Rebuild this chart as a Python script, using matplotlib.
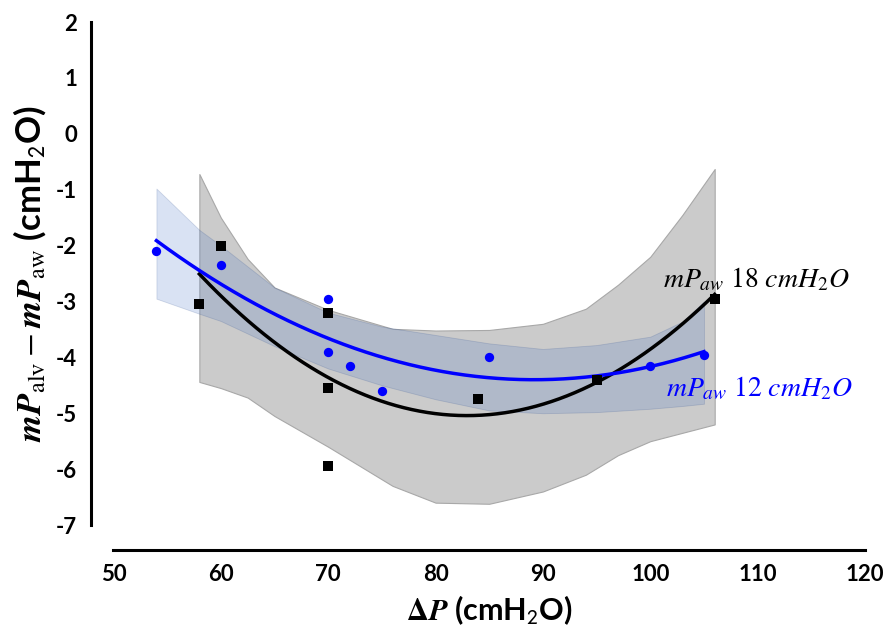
import numpy as np
import matplotlib
matplotlib.use("Agg")
import matplotlib.pyplot as plt

plt.rcParams['mathtext.fontset'] = 'stix'
plt.rcParams['font.family'] = ['Lato', 'DejaVu Sans']

# Measurements at mP_aw = 12 cmH2O (blue) and 18 cmH2O (black)
dp_12 = [54, 60, 70, 70, 72, 75, 85, 100, 105]
diff_12 = [-2.1, -2.35, -2.95, -3.9, -4.15, -4.6, -4.0, -4.15, -3.95]

dp_18 = [58, 60, 70, 70, 70, 84, 95, 106]
diff_18 = [-3.05, -2.0, -3.2, -4.55, -5.95, -4.75, -4.4, -2.95]

# Confidence bands of the quadratic fits
band12_x = [54, 58, 60, 65, 70, 75, 80, 85, 90, 95, 100, 103, 105]
band12_hi = [-0.98, -1.72, -2.0, -2.75, -3.2, -3.45, -3.6, -3.75, -3.85, -3.78, -3.63, -3.36, -3.0]
band12_lo = [-2.95, -3.22, -3.35, -3.8, -4.2, -4.5, -4.75, -4.95, -5.0, -4.98, -4.92, -4.87, -4.83]

band18_x = [58, 60, 62.5, 65, 70, 76, 80, 85, 90, 94, 97, 100, 103, 106]
band18_hi = [-0.72, -1.5, -2.24, -2.75, -3.15, -3.49, -3.52, -3.51, -3.4, -3.13, -2.7, -2.2, -1.45, -0.63]
band18_lo = [-4.44, -4.55, -4.72, -5.05, -5.6, -6.3, -6.6, -6.62, -6.4, -6.1, -5.75, -5.5, -5.35, -5.2]

x_ticks = [50, 60, 70, 80, 90, 100, 110, 120]
y_ticks = [2, 1, 0, -1, -2, -3, -4, -5, -6, -7]

fig = plt.figure(figsize=(8.9, 6.33), dpi=100)
ax = fig.add_axes([0.1275, 0.1706, 0.8444, 0.7946])

# bands
ax.fill_between(band18_x, band18_lo, band18_hi, facecolor='#cbcbcb',
                edgecolor='#a8a8a8', linewidth=0.8, zorder=1)
ax.fill_between(band12_x, band12_lo, band12_hi, facecolor='#4472c4', alpha=0.2,
                edgecolor='#2f4f8f', linewidth=0.6, zorder=2)

# quadratic fits
def quad_fit(x, y):
    x = np.asarray(x, float)
    c = np.polyfit(x, y, 2)
    xs = np.linspace(x.min(), x.max(), 200)
    return xs, np.polyval(c, xs)

xs, ys = quad_fit(dp_18, diff_18)
ax.plot(xs, ys, color='black', lw=2.5, zorder=3)
xs, ys = quad_fit(dp_12, diff_12)
ax.plot(xs, ys, color='#0000ff', lw=2.5, zorder=3)

ax.scatter(dp_18, diff_18, marker='s', s=55, color='black', zorder=4, linewidths=0)
ax.scatter(dp_12, diff_12, marker='o', s=45, color='#0000ff', zorder=4, linewidths=0)

ax.text(101.2, -2.61, r'$mP_{aw}\ \mathrm{18}\ cmH_2O$', color='black',
        fontsize=20, ha='left', va='center')
ax.text(101.5, -4.56, r'$mP_{aw}\ \mathrm{12}\ cmH_2O$', color='#0000ff',
        fontsize=20, ha='left', va='center')

ax.set_xlim(50, 120)
ax.set_ylim(-7, 2)
ax.set_xticks(x_ticks)
ax.set_yticks(y_ticks)
ax.set_xticklabels([str(v) for v in x_ticks])
ax.set_yticklabels([str(v) for v in y_ticks])

for s in ('top', 'right'):
    ax.spines[s].set_visible(False)
ax.spines['left'].set_position(('outward', 16))
ax.spines['bottom'].set_position(('outward', 18))
ax.spines['left'].set_linewidth(2.2)
ax.spines['bottom'].set_linewidth(2.2)
ax.tick_params(length=0, labelsize=16, pad=10)
for lab in ax.get_xticklabels() + ax.get_yticklabels():
    lab.set_fontweight('bold')

ax.set_xlabel(r'$\mathbf{\Delta}\mathbfit{P}$ (cmH$_{\mathsf{2}}$O)', fontsize=22,
              fontweight='bold', labelpad=6)
ax.set_ylabel(r'$\mathbfit{mP}_{\mathrm{alv}} - \mathbfit{mP}_{\mathrm{aw}}$ (cmH$_{\mathsf{2}}$O)',
              fontsize=25, fontweight='bold', labelpad=6)

fig.savefig('out.png', dpi=100)
